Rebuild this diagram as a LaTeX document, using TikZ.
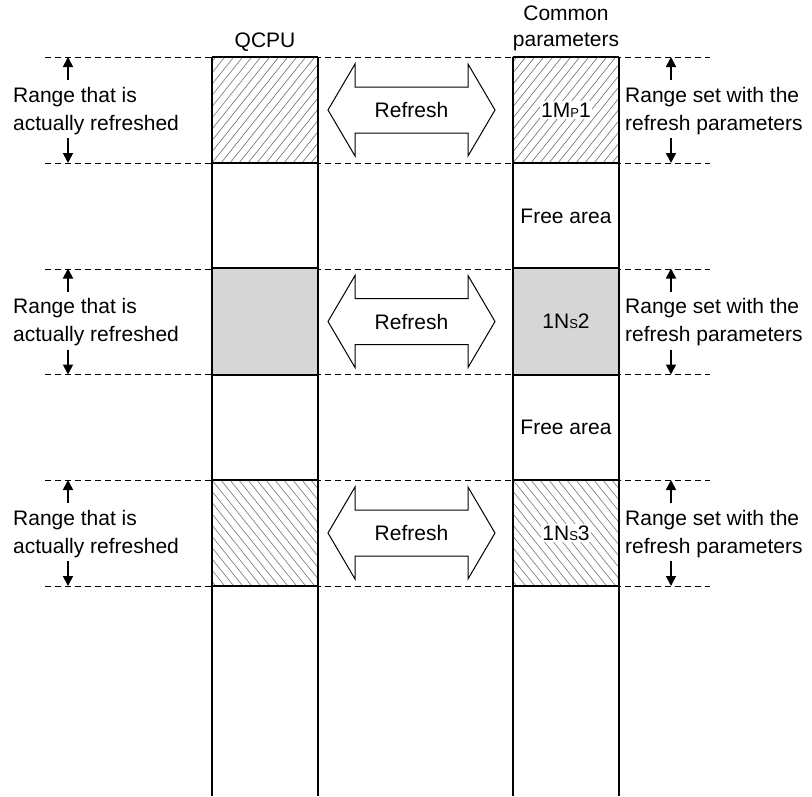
\documentclass[tikz,border=0pt]{standalone}
\usepackage{fontspec}
\setmainfont{Liberation Sans}
\usetikzlibrary{arrows.meta}
% small letter set on the baseline inside device names (1M_P1, 1N_S2 ...)
\newcommand{\smallch}[1]{{\fontsize{13}{13}\selectfont #1}}
\begin{document}
\begin{tikzpicture}[x=1pt,y=-1pt,
  lbl/.style={font=\fontsize{21}{28}\selectfont, align=left, inner sep=0pt, anchor=west},
  ctr/.style={font=\fontsize{21}{26}\selectfont, align=center, inner sep=0pt},
  devname/.style={ctr, inner sep=1.5pt},
  guide/.style={dash pattern=on 6pt off 4pt, line width=1pt},
  edge/.style={line width=2.2pt},
  colline/.style={line width=1.4pt},
  dimarrow/.style={-{Triangle[length=10pt,width=10pt]}, line width=1.8pt},
  hatch/.style={black!55, line width=0.6pt},
  block/.style={minimum width=106pt, minimum height=106pt, inner sep=0pt, draw=none},
  bigarrow/.style={draw, line width=1pt, fill=white}
]
\useasboundingbox (0,0) rectangle (812,796);

% horizontal range guides
\foreach \yy in {57,163,269,374,480,586}
  \draw[guide] (45,\yy) -- (710,\yy);

% memory blocks of both columns
\node[block, fill=white] (qA) at (265,110) {};
\node[block, fill=gray!32] (qB) at (265,321.5) {};
\node[block, fill=white] (qC) at (265,533) {};
\node[block, fill=white] (cA) at (566,110) {};
\node[block, fill=gray!32] (cB) at (566,321.5) {};
\node[block, fill=white] (cC) at (566,533) {};

% hatching: rising lines in the first range, falling lines in the third
\foreach \blk in {qA,cA}{
  \begin{scope}
    \clip (\blk.north west) rectangle (\blk.south east);
    \foreach \k in {-14,...,14}
      \draw[hatch] ([xshift=\k*9pt]\blk.south west) -- ++(90,-112.5);
  \end{scope}
}
\foreach \blk in {qC,cC}{
  \begin{scope}
    \clip (\blk.north west) rectangle (\blk.south east);
    \foreach \k in {-14,...,14}
      \draw[hatch] ([xshift=\k*9pt]\blk.north west) -- ++(90,112.5);
  \end{scope}
}

% range boundaries
\foreach \blk in {qA,qB,qC,cA,cB,cC}{
  \draw[edge] (\blk.north west) -- (\blk.north east);
  \draw[edge] (\blk.south west) -- (\blk.south east);
}

% column walls
\coordinate (qtop) at (212,57);  \coordinate (qbot) at (212,796);
\coordinate (qtopr) at (318,57); \coordinate (qbotr) at (318,796);
\coordinate (ctop) at (513,57);  \coordinate (cbot) at (513,796);
\coordinate (ctopr) at (619,57); \coordinate (cbotr) at (619,796);
\draw[colline] (qtop) -- (qbot);
\draw[colline] (qtopr) -- (qbotr);
\draw[colline] (ctop) -- (cbot);
\draw[colline] (ctopr) -- (cbotr);

% column titles
\node[ctr] (qcpu) at (265,42) {QCPU};
\node[ctr] (cpar) at (566,28) {Common\\parameters};

% device names
\node[devname, fill=white] (nA) at (cA) {1M\smallch{P}1};
\node[devname] (nB) at (cB) {1N\smallch{S}2};
\node[devname, fill=white] (nC) at (cC) {1N\smallch{S}3};
\node[ctr] (free1) at (566,216) {Free area};
\node[ctr] (free2) at (566,427) {Free area};

% refresh arrows and range labels
\foreach \blk/\yc in {A/110,B/321.5,C/533}{
  \draw[bigarrow] (328,\yc) -- ++(27,-46) -- ++(0,23) -- ++(113,0) -- ++(0,-23)
    -- ++(27,46) -- ++(-27,46) -- ++(0,-23) -- ++(-113,0) -- ++(0,23) -- cycle;
  \node[ctr] (ref\blk) at (411.5,\yc) {Refresh};
  \node[lbl] (lt\blk) at (13,\yc+1) {Range that is\\actually refreshed};
  \node[lbl] (rt\blk) at (625,\yc+1) {Range set with the\\refresh parameters};
  \coordinate (lu\blk) at (68,\yc-53);
  \coordinate (lus\blk) at (68,\yc-30);
  \coordinate (ld\blk) at (68,\yc+53);
  \coordinate (lds\blk) at (68,\yc+28);
  \coordinate (ru\blk) at (671,\yc-53);
  \coordinate (rus\blk) at (671,\yc-30);
  \coordinate (rd\blk) at (671,\yc+53);
  \coordinate (rds\blk) at (671,\yc+28);
  \draw[dimarrow] (lus\blk) -- (lu\blk);
  \draw[dimarrow] (lds\blk) -- (ld\blk);
  \draw[dimarrow] (rus\blk) -- (ru\blk);
  \draw[dimarrow] (rds\blk) -- (rd\blk);
}
\end{tikzpicture}
\end{document}
